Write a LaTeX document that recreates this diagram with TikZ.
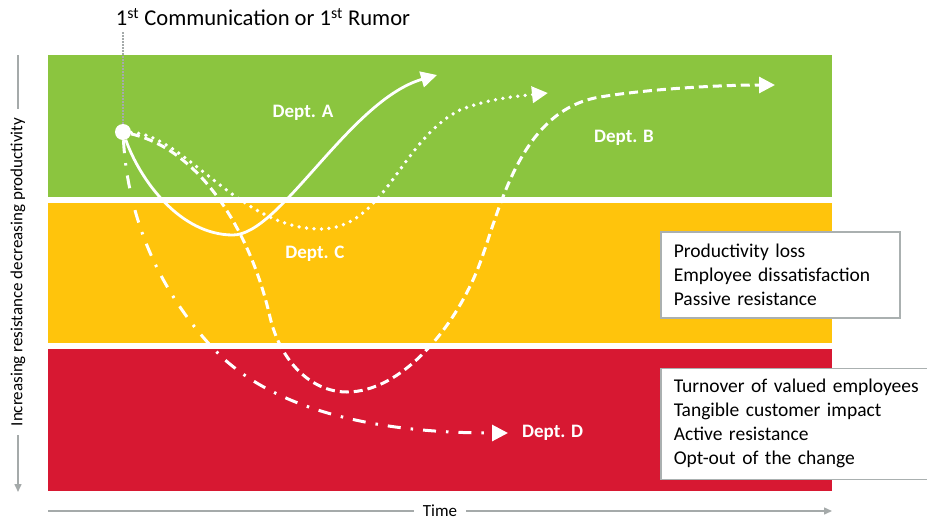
\documentclass[tikz,border=0pt]{standalone}
\usepackage{fontspec}
\setmainfont{Carlito}
\usetikzlibrary{positioning,arrows.meta}

\definecolor{bandgreen}{RGB}{139,197,63}
\definecolor{bandyellow}{RGB}{255,196,12}
\definecolor{bandred}{RGB}{215,24,50}
\definecolor{axisgray}{RGB}{165,170,170}
\definecolor{boxgray}{RGB}{170,176,176}

\tikzset{
  tip/.style={-{Triangle[length=16pt,width=16pt]}},
  solidline/.style={tip, white, line width=2.8pt},
  dottedline/.style={tip, white, line width=3.8pt, line cap=round, dash pattern=on 0pt off 7.5pt},
  dashedline/.style={tip, white, line width=3pt, dash pattern=on 9pt off 5pt},
  dashdotline/.style={tip, white, line width=3pt, dash pattern=on 13pt off 10pt on 2.5pt off 10pt},
  dept/.style={white, inner sep=0pt, font=\fontsize{19}{23}\selectfont\bfseries},
  infobox/.style={draw=boxgray, line width=1.5pt, fill=white, align=left, inner xsep=13pt,
    font=\fontsize{19.5}{24}\selectfont},
  axis/.style={axisgray, line width=1.5pt},
  axislabel/.style={inner sep=9pt, font=\fontsize{17}{20}\selectfont},
}

\begin{document}
\begin{tikzpicture}[x=1pt, y=-1pt]
  \useasboundingbox (0,0) rectangle (927,520);

  \fill[bandgreen] (48,55) rectangle (832,197);
  \fill[bandyellow] (48,203) rectangle (832,343);
  \fill[bandred] (48,349) rectangle (832,491);

  \node[font=\fontsize{22.6}{27}\selectfont] (t1) at (263,17) {1\textsuperscript{st} Communication or 1\textsuperscript{st} Rumor};
  \coordinate (t2) at (123,32);
  \node[circle, fill=white, inner sep=0pt, minimum size=16pt] (s) at (123,132) {};
  \draw[axisgray, line width=1.2pt, dash pattern=on 1.5pt off 1.5pt] (t2) -- (s);

  \coordinate (a1) at (233,235);
  \coordinate (a2) at (437,75);
  \coordinate (c1) at (320,229);
  \coordinate (c2) at (460,110);
  \coordinate (c3) at (548,93);
  \coordinate (b1) at (270,317);
  \coordinate (b2) at (347,392);
  \coordinate (b3) at (480,263);
  \coordinate (b4) at (600,97);
  \coordinate (b5) at (775,85);
  \coordinate (d1) at (210,345);
  \coordinate (d2) at (508,433);

  \draw[solidline] (s) .. controls (140,180) and (180,235) .. (a1)
    .. controls (280,235) and (350,100) .. (a2);
  \draw[dottedline] (s) .. controls (185,135) and (240,229) .. (c1)
    .. controls (385,229) and (400,140) .. (c2)
    .. controls (490,98) and (520,96) .. (c3);
  \draw[dashedline] (s) .. controls (200,150) and (250,230) .. (b1)
    .. controls (280,360) and (310,392) .. (b2)
    .. controls (400,392) and (455,330) .. (b3)
    .. controls (500,209) and (520,110) .. (b4)
    .. controls (648,89) and (720,85) .. (b5);
  \draw[dashdotline] (s) .. controls (128,220) and (160,290) .. (d1)
    .. controls (255,395) and (340,433) .. (d2);

  \node[dept, anchor=base] (la) at (303,117) {Dept. A};
  \node[dept, anchor=base] (lb) at (624,142) {Dept. B};
  \node[dept, anchor=base] (lc) at (315,258) {Dept. C};
  \node[dept, right=14pt of d2] (ld) {Dept. D};

  \node[infobox, text width=213pt, minimum height=86pt, anchor=north west] (p1) at (660,231)
    {Productivity loss\\Employee dissatisfaction\\Passive resistance};
  \node[infobox, text width=260pt, minimum height=111pt, below=49pt of p1.south west, anchor=north west] (p2)
    {Turnover of valued employees\\Tangible customer impact\\Active resistance\\Opt-out of the change};

  \node[axislabel, rotate=90] (v1) at (18,272) {Increasing resistance decreasing productivity};
  \coordinate (v0) at (18,55);
  \coordinate (v2) at (18,492);
  \draw[axis] (v0) -- (v1.east);
  \draw[axis, -{Triangle[length=8pt,width=7pt]}] (v1.west) -- (v2);

  \node[axislabel] (h1) at (440,511) {Time};
  \coordinate (h0) at (48,511);
  \coordinate (h2) at (832,511);
  \draw[axis] (h0) -- (h1.west);
  \draw[axis, -{Triangle[length=8pt,width=7pt]}] (h1.east) -- (h2);
\end{tikzpicture}
\end{document}
